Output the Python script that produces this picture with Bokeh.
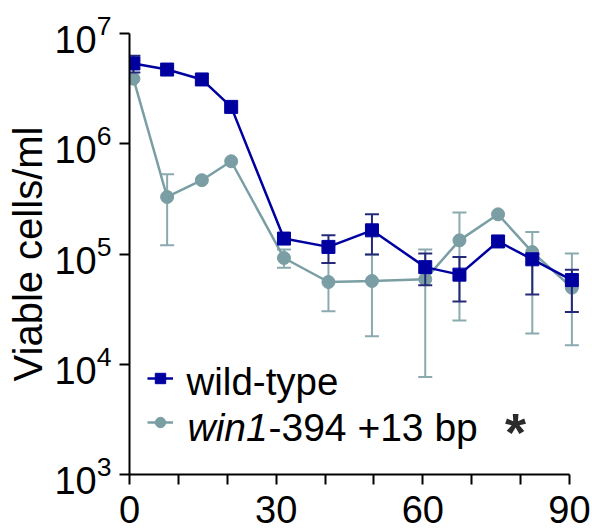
import math
from bokeh.plotting import figure
from bokeh.models import (ColumnDataSource, FixedTicker, Range1d, Legend,
                          LegendItem, Label)
from bokeh.embed import file_html
from bokeh.resources import INLINE

# ---- data ----
days = [0.8, 7.7, 14.8, 20.8, 31.6, 40.7, 49.6, 60.5, 67.5, 75.4, 82.4, 90.5]

wt_mean  = [5.35e6, 4.71e6, 3.83e6, 2.16e6, 1.38e5, 1.16e5, 1.64e5, 7.6e4, 6.5e4, 1.30e5, 8.95e4, 5.8e4]
wt_upper = [6.27e6, None, None, None, None, 1.48e5, 2.29e5, 1.01e5, 9.4e4, None, 1.0e5, 7.2e4]
wt_lower = [4.43e6, None, None, None, None, 8.3e4, 9.9e4, 5.2e4, 3.7e4, None, 4.3e4, 2.98e4]

mut_mean  = [3.89e6, 3.29e5, 4.67e5, 6.94e5, 9.2e4, 5.57e4, 5.69e4, 5.9e4, 1.33e5, 2.29e5, 1.04e5, 4.95e4]
mut_upper = [None, 5.28e5, None, None, 1.1e5, 8.3e4, 9.9e4, 1.1e5, 2.38e5, None, 1.58e5, 1.01e5]
mut_lower = [None, 1.2e5, None, None, 7.5e4, 3.02e4, 1.79e4, 7.66e3, 2.5e4, None, 1.9e4, 1.49e4]

x_ticks = [0, 30, 60, 90]
x_minor = [10, 20, 40, 50, 70, 80]
y_ticks = [1e3, 1e4, 1e5, 1e6, 1e7]

label_wt = "wild-type"
label_mut_italic = "win1"
label_mut_rest = "-394 +13 bp"
signif = "*"

WT = "#0000a0"
WT_ERR = "#252a78"
MUT = "#7a9ea3"
MUT_ERR = "#8aaab0"
FONT = "Liberation Sans"


def err_source(x, lo, hi):
    xs, los, his = [], [], []
    for a, l, h in zip(x, lo, hi):
        if l is not None and h is not None:
            xs.append(a); los.append(l); his.append(h)
    return ColumnDataSource(dict(x=xs, lo=los, hi=his))


p = figure(width=592, height=532, x_range=Range1d(0, 93.9),
           y_range=Range1d(1e3, 1e7), y_axis_type="log",
           output_backend="svg", toolbar_location=None,
           min_border_left=129, min_border_right=4,
           min_border_top=33, min_border_bottom=58)
p.outline_line_color = None
p.grid.visible = False
p.background_fill_color = "white"

# mutant (drawn first)
ms = err_source(days, mut_lower, mut_upper)
p.segment(x0="x", y0="lo", x1="x", y1="hi", source=ms, line_color=MUT_ERR, line_width=2)
p.scatter(x="x", y="hi", source=ms, marker="dash", size=14, line_color=MUT_ERR, line_width=2)
p.scatter(x="x", y="lo", source=ms, marker="dash", size=14, line_color=MUT_ERR, line_width=2)
mut_src = ColumnDataSource(dict(x=days, y=mut_mean))
mut_line = p.line(x="x", y="y", source=mut_src, line_color=MUT, line_width=2.5)
mut_pts = p.scatter(x="x", y="y", source=mut_src, marker="circle", size=13,
                    fill_color=MUT, line_color=MUT)

# wild type
ws = err_source(days, wt_lower, wt_upper)
p.segment(x0="x", y0="lo", x1="x", y1="hi", source=ws, line_color=WT_ERR, line_width=2)
p.scatter(x="x", y="hi", source=ws, marker="dash", size=14, line_color=WT_ERR, line_width=2)
p.scatter(x="x", y="lo", source=ws, marker="dash", size=14, line_color=WT_ERR, line_width=2)
wt_src = ColumnDataSource(dict(x=days, y=wt_mean))
wt_line = p.line(x="x", y="y", source=wt_src, line_color=WT, line_width=2.5)
wt_pts = p.scatter(x="x", y="y", source=wt_src, marker="square", size=13,
                   fill_color=WT, line_color=WT)

# axes
xa = p.xaxis[0]
xa.ticker = FixedTicker(ticks=x_ticks, minor_ticks=x_minor)
xa.bounds = (0, 90)
ya = p.yaxis[0]
ya.ticker = FixedTicker(ticks=y_ticks, minor_ticks=[])
ya.bounds = (1e3, 1e7)
ya.axis_label = "Viable cells/ml"

for ax in (xa, ya):
    ax.axis_line_color = "black"
    ax.axis_line_width = 2
    ax.major_tick_line_color = "black"
    ax.major_tick_line_width = 2
    ax.minor_tick_line_color = "black"
    ax.minor_tick_line_width = 2
    ax.major_tick_in = 0
    ax.major_tick_out = 10
    ax.minor_tick_in = 0
    ax.minor_tick_out = 10
    ax.major_label_text_font = FONT
    ax.major_label_text_font_size = "38px"
    ax.major_label_text_color = "black"
    ax.axis_label_text_font = FONT
    ax.axis_label_text_font_size = "40px"
    ax.axis_label_text_font_style = "normal"
    ax.axis_label_text_color = "black"

xa.major_label_standoff = 11
ya.major_label_standoff = 8
ya.axis_label_standoff = 1

# legend (samples) + text labels
legend = Legend(items=[LegendItem(label=" ", renderers=[wt_line, wt_pts]),
                       LegendItem(label=" ", renderers=[mut_line, mut_pts])],
                location=(18, 37), glyph_width=26, glyph_height=30, spacing=14,
                padding=0, margin=0, label_width=0, label_standoff=0,
                label_text_font_size="1px",
                border_line_color=None, background_fill_alpha=0)
p.add_layout(legend)

common = dict(x_units="screen", y_units="screen", text_font=FONT,
              text_color="black", text_baseline="alphabetic")
p.add_layout(Label(x=57, y=93, text=label_wt, text_font_size="38.5px", **common))
p.add_layout(Label(x=58, y=47, text=label_mut_italic, text_font_style="italic",
                   text_font_size="39px", **common))
p.add_layout(Label(x=139, y=47, text=label_mut_rest, text_font_size="39px", **common))
p.add_layout(Label(x=386, y=43, text=signif, x_units="screen", y_units="screen",
                   text_font=FONT, text_font_size="54px", text_font_style="bold",
                   text_color="#2b2b2b", text_align="center", text_baseline="alphabetic"))

open("out.html", "w").write(file_html(p, INLINE))
